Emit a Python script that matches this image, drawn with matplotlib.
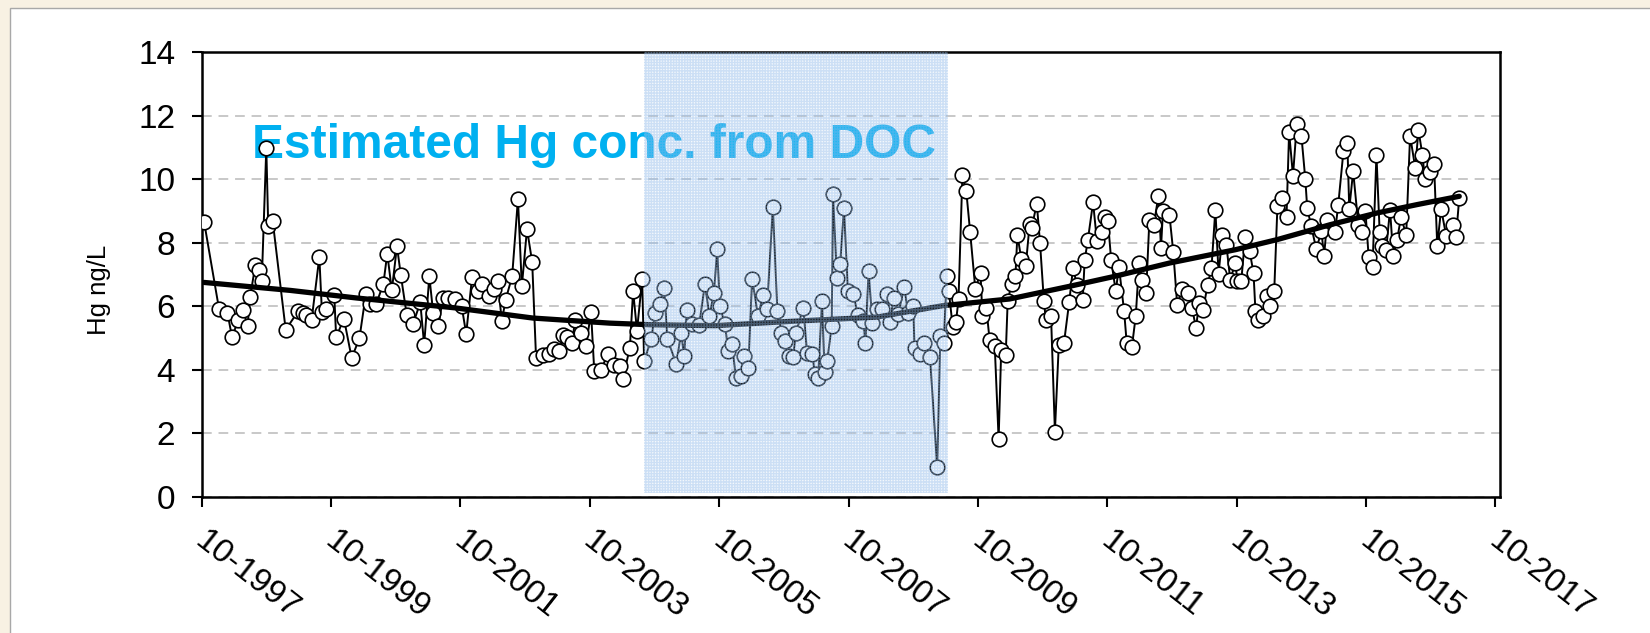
import matplotlib
matplotlib.use("Agg")
import matplotlib.pyplot as plt
from matplotlib.patches import Rectangle

plt.rcParams['font.family'] = ['Liberation Sans', 'DejaVu Sans']

# Sampling dates (decimal year) and Hg concentration (ng/L)
years = [
    1997.79, 1998.02, 1998.15, 1998.22, 1998.32, 1998.39, 1998.46, 1998.50, 1998.58, 1998.63,
    1998.68, 1998.75, 1998.78, 1998.85, 1999.05, 1999.24, 1999.32, 1999.37, 1999.45, 1999.57,
    1999.61, 1999.68, 1999.80, 1999.83, 1999.95, 2000.07, 2000.19, 2000.29, 2000.35, 2000.45,
    2000.56, 2000.62, 2000.69, 2000.77, 2000.83, 2000.92, 2001.02, 2001.13, 2001.19, 2001.27,
    2001.33, 2001.41, 2001.48, 2001.56, 2001.67, 2001.77, 2001.84, 2001.93, 2002.02, 2002.08,
    2002.19, 2002.27, 2002.33, 2002.39, 2002.45, 2002.55, 2002.64, 2002.70, 2002.78, 2002.86,
    2002.92, 2003.03, 2003.12, 2003.20, 2003.28, 2003.34, 2003.40, 2003.48, 2003.52, 2003.61,
    2003.69, 2003.77, 2003.82, 2003.92, 2004.03, 2004.12, 2004.22, 2004.26, 2004.37, 2004.42,
    2004.48, 2004.56, 2004.59, 2004.70, 2004.76, 2004.84, 2004.90, 2004.95, 2005.09, 2005.16,
    2005.21, 2005.25, 2005.33, 2005.44, 2005.53, 2005.60, 2005.67, 2005.72, 2005.76, 2005.84,
    2005.89, 2005.95, 2006.01, 2006.09, 2006.13, 2006.20, 2006.26, 2006.35, 2006.43, 2006.49,
    2006.58, 2006.65, 2006.71, 2006.77, 2006.83, 2006.89, 2006.94, 2007.05, 2007.11, 2007.19,
    2007.23, 2007.28, 2007.34, 2007.38, 2007.42, 2007.49, 2007.51, 2007.57, 2007.62, 2007.68,
    2007.74, 2007.82, 2007.90, 2007.98, 2008.01, 2008.06, 2008.12, 2008.19, 2008.27, 2008.35,
    2008.39, 2008.45, 2008.52, 2008.61, 2008.67, 2008.75, 2008.77, 2008.86, 2008.92, 2009.01,
    2009.12, 2009.17, 2009.22, 2009.27, 2009.30, 2009.36, 2009.41, 2009.45, 2009.51, 2009.57,
    2009.63, 2009.71, 2009.79, 2009.82, 2009.88, 2009.93, 2010.01, 2010.07, 2010.11, 2010.18,
    2010.21, 2010.27, 2010.33, 2010.36, 2010.42, 2010.49, 2010.55, 2010.58, 2010.66, 2010.71,
    2010.77, 2010.80, 2010.88, 2010.94, 2011.00, 2011.08, 2011.16, 2011.22, 2011.28, 2011.37,
    2011.40, 2011.45, 2011.53, 2011.59, 2011.67, 2011.71, 2011.76, 2011.81, 2011.88, 2011.93,
    2012.01, 2012.05, 2012.13, 2012.19, 2012.24, 2012.29, 2012.35, 2012.40, 2012.47, 2012.54,
    2012.58, 2012.61, 2012.71, 2012.77, 2012.83, 2012.91, 2013.00, 2013.06, 2013.12, 2013.17,
    2013.23, 2013.30, 2013.36, 2013.42, 2013.47, 2013.53, 2013.59, 2013.65, 2013.73, 2013.76,
    2013.82, 2013.88, 2013.95, 2014.01, 2014.04, 2014.08, 2014.16, 2014.22, 2014.27, 2014.33,
    2014.38, 2014.45, 2014.52, 2014.56, 2014.62, 2014.68, 2014.75, 2014.81, 2014.84, 2014.90,
    2014.98, 2015.06, 2015.10, 2015.15, 2015.27, 2015.32, 2015.40, 2015.46, 2015.49, 2015.55,
    2015.63, 2015.69, 2015.74, 2015.79, 2015.85, 2015.91, 2015.96, 2016.00, 2016.06, 2016.12,
    2016.17, 2016.23, 2016.29, 2016.37, 2016.43, 2016.51, 2016.56, 2016.62, 2016.66, 2016.74,
    2016.80, 2016.85, 2016.91, 2016.99, 2017.10, 2017.14, 2017.19,
]
hg = [
    8.64, 5.91, 5.79, 5.03, 5.58, 5.87, 5.37, 6.29, 7.29, 7.13,
    6.78, 10.98, 8.52, 8.67, 5.26, 5.84, 5.79, 5.74, 5.56, 7.55,
    5.81, 5.91, 6.37, 5.03, 5.61, 4.37, 5.00, 6.40, 6.08, 6.08,
    6.71, 7.66, 6.50, 7.89, 6.97, 5.74, 5.45, 6.12, 4.79, 6.94,
    5.79, 5.37, 6.26, 6.26, 6.23, 6.00, 5.13, 6.91, 6.47, 6.71,
    6.31, 6.54, 6.78, 5.53, 6.21, 6.94, 9.38, 6.63, 8.43, 7.39,
    4.37, 4.48, 4.51, 4.65, 4.58, 5.11, 5.03, 4.84, 5.56, 5.16,
    4.74, 5.81, 3.95, 3.98, 4.51, 4.16, 4.11, 3.71, 4.70, 6.48,
    5.23, 6.85, 4.28, 4.96, 5.80, 6.06, 6.59, 4.96, 4.18, 5.17,
    4.44, 5.88, 5.43, 5.40, 6.69, 5.70, 6.43, 7.81, 6.01, 5.43,
    4.60, 4.81, 3.73, 3.81, 4.44, 4.07, 6.87, 5.70, 6.35, 5.93,
    9.12, 5.85, 5.17, 4.91, 4.44, 4.39, 5.17, 5.96, 4.52, 4.49,
    3.86, 3.73, 6.17, 3.93, 4.28, 5.38, 9.52, 6.90, 7.32, 9.10,
    6.48, 6.38, 5.72, 5.54, 4.86, 7.11, 5.47, 5.91, 5.91, 6.38,
    5.51, 6.27, 5.75, 6.62, 5.80, 6.01, 4.70, 4.49, 4.84, 4.39,
    0.93, 5.07, 4.86, 6.95, 6.48, 5.36, 5.49, 6.22, 10.12, 9.62,
    8.33, 6.54, 7.05, 5.68, 5.95, 4.95, 4.74, 1.82, 4.63, 4.48,
    6.16, 6.71, 6.96, 8.25, 7.49, 7.28, 8.60, 8.46, 9.23, 7.99,
    6.16, 5.58, 5.70, 2.06, 4.79, 4.84, 6.12, 7.20, 6.68, 6.21,
    7.45, 8.10, 9.27, 8.04, 8.33, 8.81, 8.67, 7.45, 6.47, 7.24,
    5.84, 4.84, 4.72, 5.70, 7.36, 6.84, 6.42, 8.70, 8.57, 9.48,
    7.83, 8.99, 8.88, 7.70, 6.05, 6.54, 6.42, 5.95, 5.32, 6.10,
    5.87, 6.68, 7.20, 9.04, 7.03, 8.25, 7.94, 6.84, 7.36, 6.78,
    6.78, 8.18, 7.73, 7.05, 5.84, 5.58, 5.68, 6.31, 6.00, 6.47,
    9.17, 9.41, 8.81, 11.48, 10.11, 11.75, 11.37, 10.01, 9.09, 8.54,
    7.80, 8.36, 7.57, 8.73, 8.33, 9.20, 10.88, 11.14, 9.06, 10.25,
    8.57, 8.33, 8.99, 7.55, 7.24, 10.77, 8.33, 7.89, 7.78, 9.04,
    7.57, 8.10, 8.81, 8.25, 11.37, 10.35, 11.54, 10.77, 9.99, 10.22,
    10.49, 7.91, 9.06, 8.20, 8.57, 8.18, 9.41,
]

# Smoothed trend
trend_years = [1997.79, 1999.12, 2000.15, 2001.67, 2002.87, 2004.06, 2004.68, 2005.69,
               2006.89, 2008.19, 2009.21, 2010.24, 2011.17, 2011.86, 2012.71, 2013.73,
               2014.38, 2015.20, 2015.93, 2016.54, 2017.19]
trend_hg = [6.75, 6.50, 6.26, 5.95, 5.63, 5.47, 5.42, 5.39,
            5.53, 5.66, 6.02, 6.23, 6.63, 6.94, 7.36, 7.78,
            8.10, 8.57, 8.94, 9.20, 9.46]

# Period where Hg was estimated from DOC
est_start, est_end = 2004.59, 2009.28

tick_years = list(range(1997, 2018, 2))
tick_labels = ["10-%d" % y for y in tick_years]

fig = plt.figure(figsize=(16.5, 6.33), dpi=100, facecolor="#f8f1e3")
panel = Rectangle((10 / 1650, -0.01), 1.0, 1 - 8 / 633 + 0.01, transform=fig.transFigure,
                  facecolor="white", edgecolor="#a8a8a8", linewidth=1, zorder=-5)
fig.patches.append(panel)

ax = fig.add_axes([201.6 / 1650, 1 - 497 / 633, (1500 - 201.6) / 1650, (497 - 52) / 633])
ax.set_facecolor("white")

ax.plot(years, hg, color="black", linewidth=1.4, marker="o", markersize=10.5,
        markerfacecolor="white", markeredgecolor="black", markeredgewidth=1.2, zorder=3)
ax.plot(trend_years, trend_hg, color="black", linewidth=3.8, solid_capstyle="round", zorder=4)

ax.text(1998.53, 10.66, "Estimated Hg conc. from DOC", color="#00b0f0", fontsize=34.5,
        fontweight="bold", va="baseline", ha="left", zorder=2)

# screened blue band over the DOC period
ax.axvspan(est_start, est_end, ymin=0.01, ymax=1.0, facecolor=(0.74, 0.84, 0.95, 0.16),
           edgecolor=(0.55, 0.72, 0.92, 0.38), hatch="++++++", linewidth=0, zorder=5)

ax.set_xlim(1997.75, 2017.82)
ax.set_ylim(0, 14)
ax.set_yticks(range(0, 15, 2))
ax.set_xticks([y + 0.75 for y in tick_years])
ax.set_xticklabels([])
# slanted date labels hanging from each tick
for ty, lab in zip(tick_years, tick_labels):
    ax.annotate(lab, xy=(ty + 0.75, 0), xycoords=("data", "axes fraction"),
                xytext=(5, -20), textcoords="offset points", fontsize=24,
                rotation=-38, rotation_mode="anchor", ha="left", va="top",
                annotation_clip=False)

ax.grid(axis="y", color="#c8c8c8", linestyle=(0, (5, 3.5)), linewidth=1.4, zorder=1)
ax.set_axisbelow(True)

for s in ax.spines.values():
    s.set_linewidth(1.8)
ax.tick_params(axis="y", labelsize=24, length=7, width=1.5, pad=12)
ax.tick_params(axis="x", length=7, width=1.5)
ax.set_ylabel("Hg ng/L", fontsize=18.5)
ax.yaxis.set_label_coords(-0.07, 0.465)

fig.savefig("out.png", dpi=100, facecolor=fig.get_facecolor())
